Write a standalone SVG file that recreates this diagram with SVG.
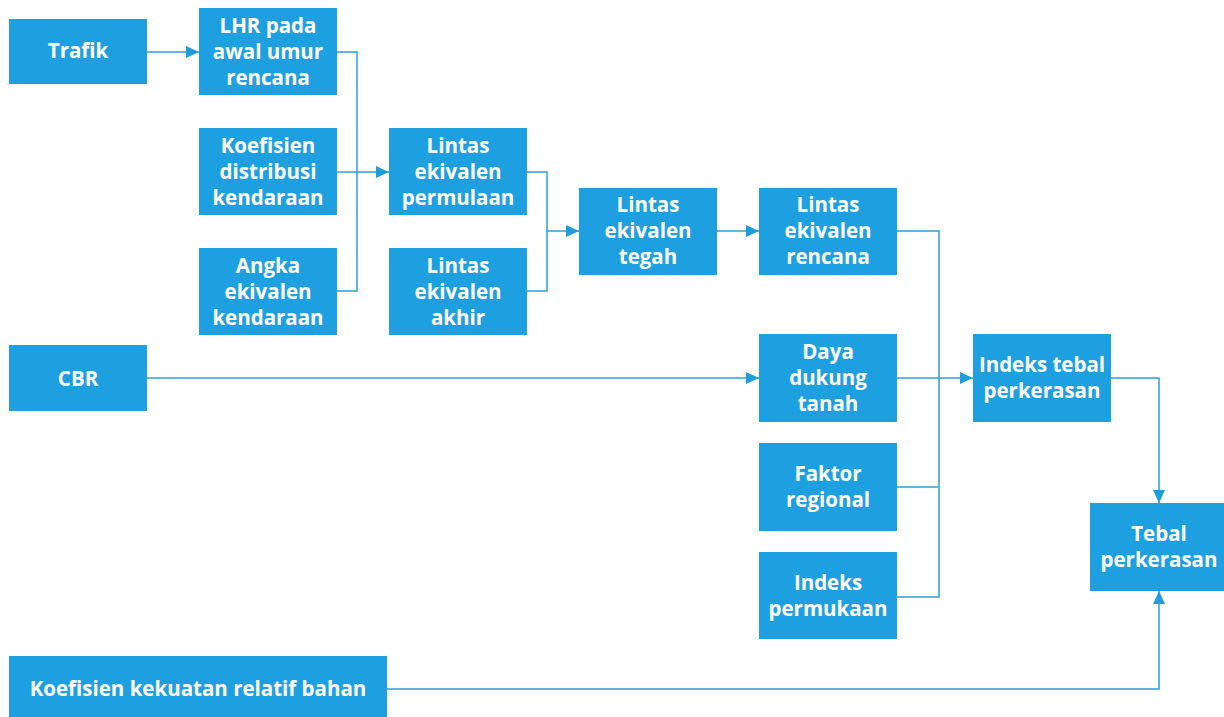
<svg xmlns="http://www.w3.org/2000/svg" width="1224" height="717" viewBox="0 0 1224 717">
<style>
.box{fill:#1ea0e0;}
.t{fill:#ffffff;font-family:"Open Sans","Noto Sans",sans-serif;font-weight:bold;font-size:20.5px;text-anchor:middle;dominant-baseline:central;}
.ln{fill:none;stroke:#2b9fd9;stroke-width:1.5;}
</style>
<defs>
<marker id="ah" viewBox="0 0 13 12" refX="13" refY="6" markerWidth="13" markerHeight="12" markerUnits="userSpaceOnUse" orient="auto">
<path d="M0,0 L13,6 L0,12 Z" fill="#1e9cdb"/>
</marker>
</defs>
<rect width="1224" height="717" fill="#ffffff"/>
<g id="connectors">
<path class="ln" d="M147,52 H199" marker-end="url(#ah)"/>
<path class="ln" d="M337,52 H357 V291 H337"/>
<path class="ln" d="M337,172 H389" marker-end="url(#ah)"/>
<path class="ln" d="M527,172 H547 V291 H527"/>
<path class="ln" d="M547,231 H579" marker-end="url(#ah)"/>
<path class="ln" d="M717,231 H759" marker-end="url(#ah)"/>
<path class="ln" d="M897,231 H939 V597 H897"/>
<path class="ln" d="M897,487 H939"/>
<path class="ln" d="M147,378 H759" marker-end="url(#ah)"/>
<path class="ln" d="M897,378 H973" marker-end="url(#ah)"/>
<path class="ln" d="M1111,378 H1159 V503" marker-end="url(#ah)"/>
<path class="ln" d="M387,689 H1159 V591" marker-end="url(#ah)"/>
</g>
<g id="trafik"><rect class="box" x="9" y="19" width="138" height="65"/><text class="t" x="78" y="50">Trafik</text></g>
<g id="lhr"><rect class="box" x="199" y="8" width="138" height="87"/><text class="t" x="268" y="25">LHR pada</text><text class="t" x="268" y="51">awal umur</text><text class="t" x="268" y="77">rencana</text></g>
<g id="koef-dist"><rect class="box" x="199" y="128" width="138" height="87"/><text class="t" x="268" y="145">Koefisien</text><text class="t" x="268" y="171">distribusi</text><text class="t" x="268" y="197">kendaraan</text></g>
<g id="angka"><rect class="box" x="199" y="248" width="138" height="87"/><text class="t" x="268" y="265">Angka</text><text class="t" x="268" y="291">ekivalen</text><text class="t" x="268" y="317">kendaraan</text></g>
<g id="lintas-permulaan"><rect class="box" x="389" y="128" width="138" height="87"/><text class="t" x="458" y="145">Lintas</text><text class="t" x="458" y="171">ekivalen</text><text class="t" x="458" y="197">permulaan</text></g>
<g id="lintas-akhir"><rect class="box" x="389" y="248" width="138" height="87"/><text class="t" x="458" y="265">Lintas</text><text class="t" x="458" y="291">ekivalen</text><text class="t" x="458" y="317">akhir</text></g>
<g id="lintas-tegah"><rect class="box" x="579" y="188" width="138" height="87"/><text class="t" x="648" y="204">Lintas</text><text class="t" x="648" y="230">ekivalen</text><text class="t" x="648" y="256">tegah</text></g>
<g id="lintas-rencana"><rect class="box" x="759" y="188" width="138" height="87"/><text class="t" x="828" y="204">Lintas</text><text class="t" x="828" y="230">ekivalen</text><text class="t" x="828" y="256">rencana</text></g>
<g id="cbr"><rect class="box" x="9" y="345" width="138" height="66"/><text class="t" x="78" y="378">CBR</text></g>
<g id="daya-dukung"><rect class="box" x="759" y="334" width="138" height="88"/><text class="t" x="828" y="351">Daya</text><text class="t" x="828" y="377">dukung</text><text class="t" x="828" y="403">tanah</text></g>
<g id="indeks-tebal"><rect class="box" x="973" y="334" width="138" height="88"/><text class="t" x="1042" y="364">Indeks tebal</text><text class="t" x="1042" y="390">perkerasan</text></g>
<g id="faktor-regional"><rect class="box" x="759" y="443" width="138" height="88"/><text class="t" x="828" y="473">Faktor</text><text class="t" x="828" y="499">regional</text></g>
<g id="indeks-permukaan"><rect class="box" x="759" y="552" width="138" height="87"/><text class="t" x="828" y="582">Indeks</text><text class="t" x="828" y="608">permukaan</text></g>
<g id="tebal"><rect class="box" x="1090" y="503" width="134" height="88"/><text class="t" x="1159" y="533">Tebal</text><text class="t" x="1159" y="559">perkerasan</text></g>
<g id="koef-kekuatan"><rect class="box" x="9" y="656" width="378" height="61"/><text class="t" x="198" y="688">Koefisien kekuatan relatif bahan</text></g>
</svg>
